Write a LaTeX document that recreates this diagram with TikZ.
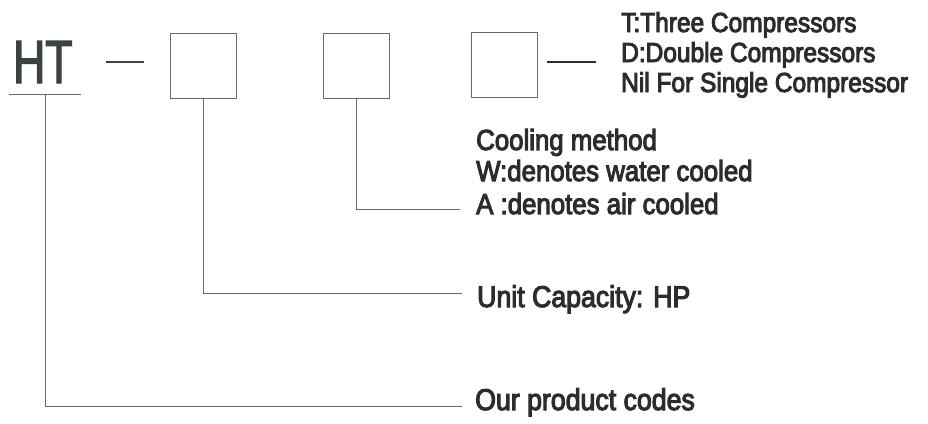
\documentclass[tikz,border=0pt]{standalone}
\usepackage{fontspec}
\setmainfont[FakeStretch=0.89,FakeBold=3.5]{Liberation Sans}
\newfontfamily\htfont[FakeStretch=0.73,FakeBold=2]{Liberation Sans}
\usetikzlibrary{calc}
\definecolor{txt}{HTML}{2C2C2C}
\definecolor{htc}{HTML}{3A4242}
\definecolor{ln}{HTML}{6A6A6A}
\begin{document}
\begin{tikzpicture}[x=1pt,y=-1pt,
  lbl/.style={anchor=base west, inner sep=0pt, text=txt},
  toptxt/.style={lbl, font=\fontsize{27.5}{27.5}\selectfont},
  midtxt/.style={lbl, font=\fontsize{29}{29}\selectfont},
  lowtxt/.style={lbl, font=\fontsize{30}{30}\selectfont},
  codebox/.style={draw=ln, line width=1pt, minimum width=66pt, minimum height=65pt, inner sep=0pt},
  conn/.style={draw=ln, line width=1pt}]
\path[use as bounding box] (0,0) rectangle (928,423);

% prefix
\node[anchor=base west, inner sep=0pt, text=htc, font=\htfont\fontsize{61}{61}\selectfont] (ht) at (13,83) {HT};
\draw[ln, line width=1pt] (9,94) -- (81,94);
\coordinate (htu) at (45,94);
\draw[htc, line width=2.5pt] (106,62) -- (144,62);

% boxes
\node[codebox] (b1) at (203,65.5) {};
\node[codebox] (b2) at (356.5,65.5) {};
\node[codebox] (b3) at (504,65) {};

% texts
\node[toptxt] (t1) at (621,32) {T:Three Compressors};
\node[toptxt] (t2) at (621,62) {D:Double Compressors};
\node[toptxt] (t3) at (621,92) {Nil For Single Compressor};
\node[midtxt] (c1) at (476,150) {Cooling method};
\node[midtxt] (c2) at (476,181) {W:denotes water cooled};
\node[midtxt] (c3) at (476,214) {A :denotes air cooled};
\node[lowtxt] (u1) at (477,307) {Unit Capacity: HP};
\node[lowtxt] (o1) at (475,410) {Our product codes};

% connector end points
\coordinate (e3) at (596,62);
\coordinate (e2) at (460,209);
\coordinate (e1) at (462,293);
\coordinate (e0) at (462,406);

% connectors
\draw[conn, draw=txt, line width=1.8pt] (b3.east |- e3) ++(9,0) -- (e3);
\draw[conn] (b2.south) -- (b2.south |- e2) -- (e2);
\draw[conn] (b1.south) -- (b1.south |- e1) -- (e1);
\draw[conn] (htu) -- (htu |- e0) -- (e0);
\end{tikzpicture}
\end{document}
